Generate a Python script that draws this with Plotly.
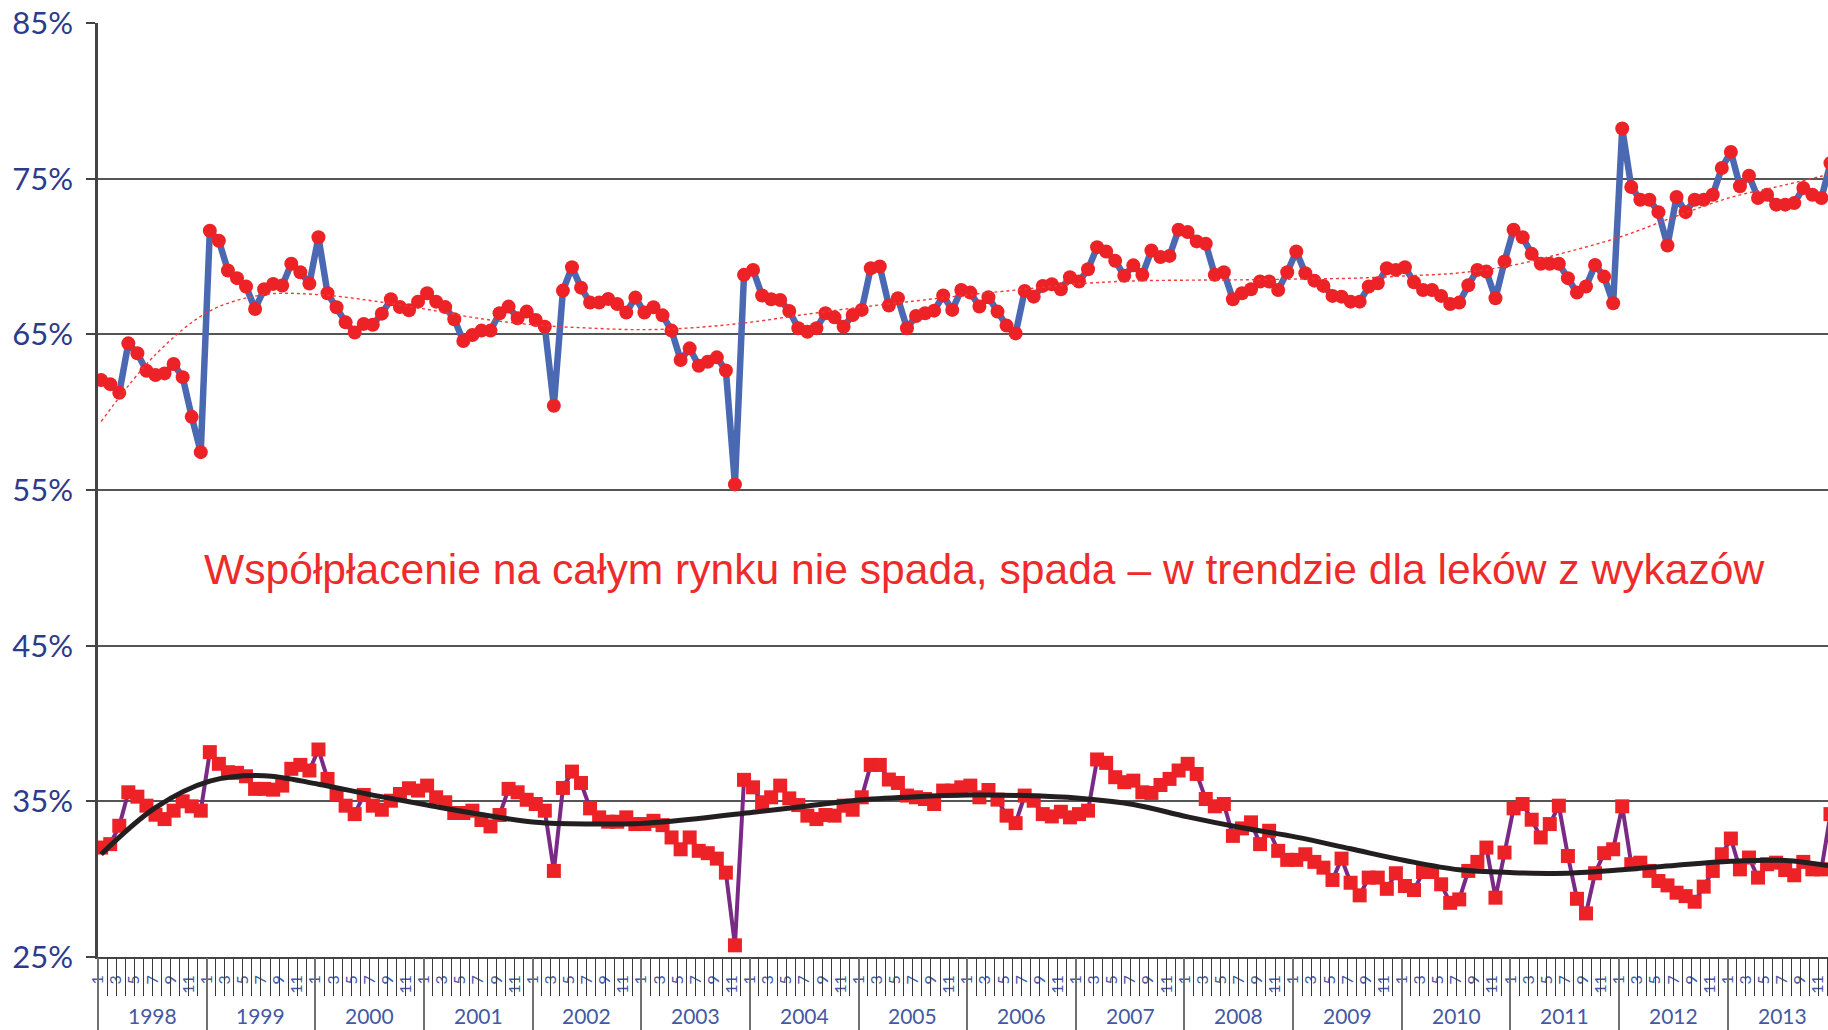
import plotly.graph_objects as go

# ---------------- data ----------------
years = list(range(1998, 2014))
month_labels = ["1", "3", "5", "7", "9", "11"]
y_ticks = [25, 35, 45, 55, 65, 75, 85]
y_tick_text = ["25%", "35%", "45%", "55%", "65%", "75%", "85%"]

# whole market co-payment (blue line, red circles), Jan 1998 .. Dec 2013
copay_market = [
    62.06, 61.80, 61.24, 64.42, 63.78, 62.66, 62.38, 62.49, 63.09, 62.25, 59.70, 57.43,
    71.65, 71.01, 69.10, 68.61, 68.07, 66.63, 67.90, 68.24, 68.13, 69.53, 68.99, 68.26,
    71.24, 67.64, 66.74, 65.77, 65.11, 65.67, 65.62, 66.33, 67.25, 66.76, 66.55, 67.10,
    67.64, 67.10, 66.75, 65.97, 64.57, 64.96, 65.24, 65.24, 66.35, 66.78, 66.03, 66.46,
    65.92, 65.49, 60.41, 67.81, 69.31, 68.00, 67.04, 67.04, 67.27, 66.95, 66.40, 67.36,
    66.40, 66.74, 66.22, 65.24, 63.35, 64.10, 62.98, 63.24, 63.52, 62.68, 55.36, 68.82,
    69.14, 67.49, 67.25, 67.21, 66.50, 65.39, 65.17, 65.39, 66.35, 66.09, 65.49, 66.24,
    66.57, 69.25, 69.36, 66.85, 67.32, 65.39, 66.18, 66.35, 66.52, 67.49, 66.57, 67.85,
    67.68, 66.78, 67.38, 66.46, 65.56, 65.06, 67.79, 67.42, 68.11, 68.22, 67.90, 68.67,
    68.39, 69.18, 70.60, 70.32, 69.72, 68.76, 69.43, 68.82, 70.39, 69.96, 70.04, 71.72,
    71.57, 70.97, 70.82, 68.82, 68.99, 67.25, 67.64, 67.90, 68.39, 68.39, 67.85, 68.99,
    70.32, 68.93, 68.45, 68.11, 67.47, 67.42, 67.10, 67.10, 68.07, 68.28, 69.25, 69.14,
    69.31, 68.35, 67.85, 67.85, 67.47, 66.95, 67.04, 68.15, 69.14, 69.03, 67.32, 69.68,
    71.72, 71.24, 70.17, 69.53, 69.53, 69.53, 68.61, 67.68, 68.07, 69.46, 68.71, 67.00,
    78.22, 74.46, 73.65, 73.65, 72.85, 70.71, 73.82, 72.85, 73.65, 73.65, 73.97, 75.69,
    76.72, 74.51, 75.19, 73.76, 73.97, 73.33, 73.33, 73.43, 74.40, 73.97, 73.76, 76.00,
]

# co-payment for listed drugs (purple line, red squares)
copay_listed = [
    32.03, 32.25, 33.43, 35.58, 35.30, 34.72, 34.14, 33.86, 34.40, 35.00, 34.68, 34.40,
    38.16, 37.41, 36.87, 36.83, 36.61, 35.80, 35.80, 35.75, 36.01, 37.09, 37.34, 36.98,
    38.33, 36.44, 35.47, 34.72, 34.18, 35.41, 34.72, 34.46, 35.04, 35.47, 35.84, 35.69,
    36.01, 35.26, 34.94, 34.25, 34.25, 34.40, 33.80, 33.39, 34.12, 35.80, 35.58, 35.10,
    34.83, 34.40, 30.53, 35.86, 36.91, 36.18, 34.55, 33.97, 33.69, 33.69, 33.97, 33.54,
    33.54, 33.75, 33.47, 32.68, 31.92, 32.68, 31.82, 31.67, 31.32, 30.42, 25.75, 36.38,
    35.90, 34.94, 35.26, 36.01, 35.19, 34.76, 34.08, 33.86, 34.12, 34.08, 34.72, 34.46,
    35.26, 37.34, 37.34, 36.40, 36.18, 35.37, 35.26, 35.15, 34.83, 35.69, 35.69, 35.90,
    36.01, 35.26, 35.73, 35.11, 34.08, 33.60, 35.37, 35.04, 34.18, 34.03, 34.33, 33.97,
    34.18, 34.40, 37.69, 37.47, 36.55, 36.23, 36.33, 35.58, 35.54, 36.05, 36.44, 36.98,
    37.41, 36.76, 35.15, 34.68, 34.83, 32.78, 33.26, 33.65, 32.25, 33.11, 31.82, 31.24,
    31.24, 31.60, 31.11, 30.74, 29.95, 31.32, 29.77, 28.96, 30.10, 30.10, 29.38, 30.38,
    29.56, 29.30, 30.46, 30.46, 29.67, 28.48, 28.70, 30.53, 31.11, 32.03, 28.81, 31.71,
    34.55, 34.83, 33.82, 32.68, 33.54, 34.72, 31.49, 28.74, 27.80, 30.38, 31.67, 31.92,
    34.68, 30.96, 31.06, 30.53, 29.88, 29.60, 29.13, 28.91, 28.55, 29.52, 30.53, 31.60,
    32.61, 30.63, 31.39, 30.10, 30.96, 31.06, 30.59, 30.25, 31.11, 30.63, 30.63, 34.18,
]

# trend lines (month index -> value)
trend_months = [0, 6, 12, 18, 24, 30, 36, 42, 48, 54, 60, 66, 72, 78, 84, 90, 96,
                102, 108, 114, 120, 126, 132, 138, 144, 150, 156, 162, 168, 174, 180, 186, 191]
trend_market = [59.4, 63.7, 66.5, 67.55, 67.55, 67.15, 66.6, 66.0, 65.6, 65.4, 65.3, 65.45,
                65.8, 66.3, 66.75, 67.15, 67.55, 67.9, 68.25, 68.43, 68.48, 68.5, 68.55, 68.6,
                68.75, 68.95, 69.45, 70.3, 71.3, 72.6, 73.8, 74.6, 75.3]
trend_listed = [31.6, 34.6, 36.3, 36.65, 36.1, 35.4, 34.76, 34.15, 33.65, 33.54, 33.6, 33.9,
                34.3, 34.7, 35.1, 35.3, 35.4, 35.37, 35.2, 34.8, 34.0, 33.3, 32.7, 31.95,
                31.2, 30.6, 30.42, 30.38, 30.6, 30.9, 31.15, 31.2, 30.85]

title_text = "Współpłacenie na całym rynku nie spada, spada – w trendzie dla leków z wykazów"

# ---------------- figure ----------------
W, H = 1828, 1030
L, T, B = 98, 23, 73
n_months = len(years) * 12
x_max = (W - 97.6) / 9.056          # visible month range (chart is cut at right edge)
offset = 0.35                        # points sit slightly right of month tick

xs = [i + offset for i in range(n_months)]
txs = [m + offset for m in trend_months]

AXIS_BLUE = "#4359A6"
NAVY = "#2E3A8C"
RED = "#EC2227"

fig = go.Figure()

fig.add_trace(go.Scatter(
    x=xs, y=copay_market, mode="lines+markers",
    line=dict(color="#4A69B2", width=6.5),
    marker=dict(symbol="circle", size=14, color=RED, line=dict(width=0)),
    showlegend=False, hoverinfo="skip"))

fig.add_trace(go.Scatter(
    x=xs, y=copay_listed, mode="lines+markers",
    line=dict(color="#7A2A86", width=4),
    marker=dict(symbol="square", size=14, color=RED, line=dict(width=0)),
    showlegend=False, hoverinfo="skip"))

fig.add_trace(go.Scatter(
    x=txs, y=trend_market, mode="lines",
    line=dict(color="#EE3A3A", width=1.4, dash="dot", shape="spline", smoothing=1.0),
    showlegend=False, hoverinfo="skip"))

fig.add_trace(go.Scatter(
    x=txs, y=trend_listed, mode="lines",
    line=dict(color="#231F20", width=5, shape="spline", smoothing=1.0),
    showlegend=False, hoverinfo="skip"))

# invisible helpers so the overlaid tick axes are drawn
for ax in ("x2", "x3"):
    fig.add_trace(go.Scatter(x=[0], y=[25], xaxis=ax, mode="markers",
                             marker=dict(opacity=0), showlegend=False, hoverinfo="skip"))

label_vals = [y * 12 + m for y in range(len(years)) for m in range(0, 12, 2)]
label_text = [month_labels[m // 2] for y in range(len(years)) for m in range(0, 12, 2)]

fig.update_layout(
    width=W, height=H,
    margin=dict(l=L, r=0, t=T, b=B, pad=0, autoexpand=False),
    paper_bgcolor="white", plot_bgcolor="white",
    font=dict(family="Lato, Liberation Sans, sans-serif"),
    xaxis=dict(
        range=[0, x_max], showgrid=False, zeroline=False, automargin=False,
        showline=True, linecolor="#444444", linewidth=1.5,
        tickmode="array", tickvals=label_vals, ticktext=label_text,
        ticks="", tickangle=-90, ticklabelstandoff=10,
        tickfont=dict(size=16, color=AXIS_BLUE, family="Lato, sans-serif"),
    ),
    xaxis2=dict(
        overlaying="x", matches="x", anchor="y", side="bottom", automargin=False,
        showgrid=False, zeroline=False, showline=False, showticklabels=False,
        tickmode="array", tickvals=list(range(n_months + 1)),
        ticks="outside", ticklen=38, tickwidth=1, tickcolor="#3a3a3a",
    ),
    xaxis3=dict(
        overlaying="x", matches="x", anchor="y", side="bottom", automargin=False,
        showgrid=False, zeroline=False, showline=False, showticklabels=False,
        tickmode="array", tickvals=[y * 12 for y in range(len(years) + 1)],
        ticks="outside", ticklen=73, tickwidth=1.5, tickcolor="#707070",
    ),
    yaxis=dict(
        range=[25, 85], zeroline=False, automargin=False,
        tickmode="array", tickvals=y_ticks, ticktext=y_tick_text,
        showgrid=True, gridcolor="#555555", gridwidth=1.5,
        showline=True, linecolor="#444444", linewidth=2.5,
        ticks="outside", ticklen=9, tickwidth=1.5, tickcolor="#444444",
        ticklabelstandoff=7,
        tickfont=dict(size=31, color=NAVY, family="Lato, sans-serif"),
    ),
)

# year labels under the month labels
for i, yr in enumerate(years):
    fig.add_annotation(
        x=i * 12 + 6, y=-(1015 - 957) / (H - T - B), xref="x", yref="paper",
        text=str(yr), showarrow=False, xanchor="center", yanchor="middle",
        borderpad=0,
        font=dict(size=21, color=AXIS_BLUE, family="Lato, sans-serif"))

# red message
fig.add_annotation(
    x=(984 - 97.6) / 9.056, y=49.9, xref="x", yref="y",
    text=title_text, showarrow=False, xanchor="center", yanchor="middle",
    font=dict(size=42.6, color="#EE2B2B", family="Liberation Sans, Arial, sans-serif"))

fig.write_html("out.html", config={"displayModeBar": False},
               post_script="document.body.style.margin='0';document.body.style.overflow='hidden';")
